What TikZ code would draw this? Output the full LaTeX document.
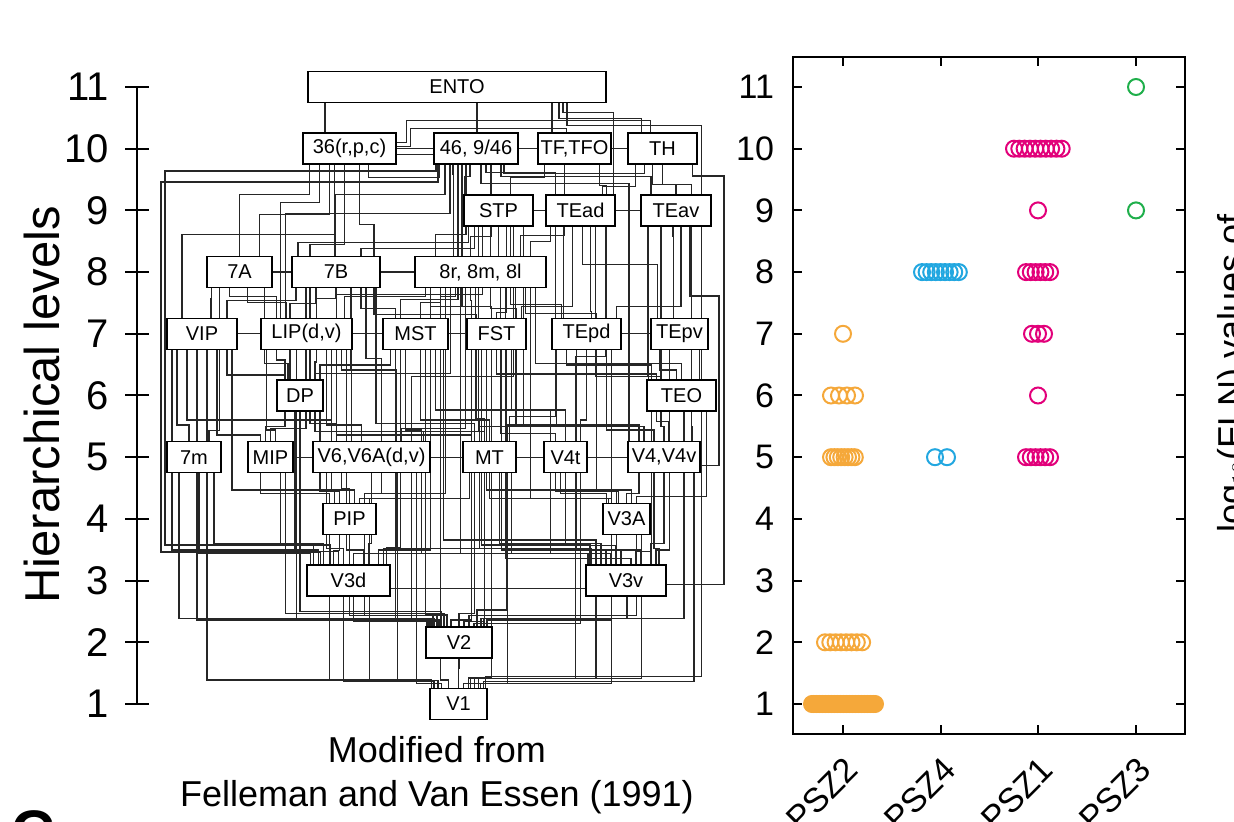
\documentclass[tikz,border=0pt]{standalone}
\usepackage{fontspec}
\setmainfont{Liberation Sans}
\definecolor{pszorange}{HTML}{F5A83A}
\definecolor{pszcyan}{HTML}{22A7E0}
\definecolor{pszmag}{HTML}{E2007A}
\definecolor{pszgreen}{HTML}{1FAF4B}
\pgfdeclarelayer{wires}
\pgfsetlayers{wires,main}
\tikzstyle{area}=[rectangle, draw, fill=white, line width=0.7pt, minimum height=15.5pt, inner sep=0pt, font=\fontsize{10}{12}\selectfont]
\tikzstyle{wire}=[draw=black!85, line width=0.6pt]
\tikzstyle{axis}=[line width=1pt]
\tikzstyle{ring}=[line width=1pt]
\tikzstyle{lvl}=[font=\fontsize{20}{22}\selectfont]
\tikzstyle{num}=[font=\fontsize{17}{19}\selectfont]
\begin{document}
\begin{tikzpicture}[x=0.5pt, y=-0.5pt]
\useasboundingbox (0,0) rectangle (1234,822);

% areas, one row per level
\node[area, minimum width=149pt] (ento) at (457,87) {ENTO};
\node[area, minimum width=46.5pt] (c36) at (349.5,148.7) {36(r,p,c)};
\node[area, minimum width=42pt] (a46) at (476,148.7) {46, 9/46};
\node[area, minimum width=36.5pt, line width=1pt] (tf) at (574.5,148.7) {TF,TFO};
\node[area, minimum width=34.5pt] (th) at (662.5,148.7) {TH};
\node[area, minimum width=34.5pt] (stp) at (498.5,210.4) {STP};
\node[area, minimum width=34.5pt] (tead) at (580.5,210.4) {TEad};
\node[area, minimum width=35pt] (teav) at (676,210.4) {TEav};
\node[area, minimum width=32.5pt] (a7a) at (239.5,272.1) {7A};
\node[area, minimum width=44pt] (a7b) at (336,272.1) {7B};
\node[area, minimum width=65.5pt] (a8) at (480.5,272.1) {8r, 8m, 8l};
\node[area, minimum width=35pt] (vip) at (202,333.8) {VIP};
\node[area, minimum width=45.5pt] (lip) at (306.5,333.8) {LIP(d,v)};
\node[area, minimum width=32.5pt] (mst) at (415.5,333.8) {MST};
\node[area, minimum width=29.5pt] (fst) at (496.5,333.8) {FST};
\node[area, minimum width=34.5pt] (tepd) at (586.5,333.8) {TEpd};
\node[area, minimum width=28.5pt] (tepv) at (679.5,333.8) {TEpv};
\node[area, minimum width=23pt] (dp) at (300,395.5) {DP};
\node[area, minimum width=34.5pt] (teo) at (681.5,395.5) {TEO};
\node[area, minimum width=27pt] (a7m) at (194,457.2) {7m};
\node[area, minimum width=22.5pt] (mip) at (270.5,457.2) {MIP};
\node[area, minimum width=58.5pt] (v6) at (371.5,457.2) {V6,V6A(d,v)};
\node[area, minimum width=26.5pt] (mt) at (489.5,457.2) {MT};
\node[area, minimum width=21.5pt] (v4t) at (565.5,457.2) {V4t};
\node[area, minimum width=36pt] (v4) at (664,457.2) {V4,V4v};
\node[area, minimum width=26.5pt] (pip) at (349.5,518.9) {PIP};
\node[area, minimum width=23.5pt] (v3a) at (626.5,518.9) {V3A};
\node[area, minimum width=41.5pt] (v3d) at (348.5,580.6) {V3d};
\node[area, minimum width=40pt] (v3v) at (626,580.6) {V3v};
\node[area, minimum width=33pt] (v2) at (459,642.3) {V2};
\node[area, minimum width=28.5pt] (v1) at (458.5,704) {V1};

\begin{pgfonlayer}{wires}
% upper area -> lower area
\foreach \hi/\hx/\jy/\lo/\lx in {
 ento/-132/12/c36/-24.5, ento/20/12/a46/1, ento/95/12/tf/-22.5, ento/102/15/th/-21, ento/106/9/tead/33, ento/110/22/teo/20,
 c36/-40/30/a7a/0, c36/-30/38/lip/-26, c36/-15/70/vip/-20, c36/-5/80/dp/10, c36/10/60/a7b/38, c36/-20/50/a7a/20,
 a46/-31/30/a7b/-1, a46/-26/49/lip/-21, a46/-23/10/a8/-27, a46/-6/12/stp/-34, a46/-18/135/mst/-15,
 a46/5/19/v4/-35, a46/10/8/tead/-25, a46/25/12/teav/-25, a46/-14/142/fst/-5, a46/-10/70/a8/-45, a46/15/72/a8/-10,
 tf/-30/12/a8/30, tf/25/20/tepd/20, tf/-10/70/a8/40,
 th/-27/22/tead/22, th/-10/20/teo/10, th/0/20/teav/0,
 stp/-30/16/a7b/-38, stp/-24/22/a7b/25, stp/0/10/a8/18, stp/-16/68/lip/30, stp/-8/80/mst/15,
 stp/8/86/fst/0, stp/15/150/v6/40, stp/25/200/mt/-10, stp/-20/205/v6/52,
 tead/-30/15/a8/50, tead/-17/10/tepd/-23, tead/2/38/tepv/-22, tead/15/150/teo/-20, tead/25/130/v4t/10, tead/-25/190/mt/20,
 tead/-8/80/fst/25, tead/10/85/tepd/5,
 teav/-28/150/teo/-33, teav/-3/10/tepv/-6, teav/-15/200/v4/0, teav/5/80/tepd/30,
 a7a/-28/10/vip/9, a7a/-10/8/lip/-30, a7a/8/14/lip/-20, a7a/25/75/dp/-12, a7a/-20/142/a7m/15,
 a7b/-40/12/vip/25, a7b/-20/15/dp/-10, a7b/0/10/lip/10, a7b/25/20/mst/-20, a7b/38/26/fst/-20,
 a7b/-30/140/mip/0, a7b/30/70/v6/10, a7b/15/80/v6/-20, a7b/40/135/mt/-15,
 a8/-55/8/lip/38, a8/-40/14/mst/5, a8/-25/8/mst/25, a8/-10/12/fst/-25, a8/10/20/fst/20, a8/30/16/tepd/-25,
 a8/45/25/tepd/10, a8/55/75/teo/0, a8/-30/85/dp/15, a8/-15/140/v6/30, a8/-5/130/mt/-5, a8/20/145/v4t/-10,
 a8/35/138/v4/-20, a8/-50/210/pip/10, a8/-35/205/pip/22, a8/50/210/v3a/-18, a8/-20/265/v3d/5, a8/25/270/v3v/5,
 vip/-25/75/a7m/-5, vip/25/25/dp/-15, vip/15/85/mip/-10, vip/-30/200/v3d/-30, vip/-15/70/v6/-40, vip/30/140/pip/-15,
 vip/-5/270/v2/-32, vip/5/330/v1/-27,
 lip/-30/10/dp/-15, lip/10/12/dp/15, lip/-40/80/mip/5, lip/20/75/v6/-10, lip/35/20/v6/25, lip/25/140/pip/5,
 lip/40/200/v3d/15, lip/30/85/mt/-18, lip/-10/270/v2/-30,
 mst/-25/15/dp/20, mst/-10/80/v6/50, mst/5/70/mt/-10, mst/20/60/v4t/-15, mst/28/190/v3v/-30, mst/15/200/v3d/30, mst/-20/270/v2/-20,
 mst/-15/198/v3d/38, mst/10/265/v2/-12, mst/25/330/v1/-10,
 fst/-20/70/mt/0, fst/0/24/teo/-25, fst/15/60/v4t/0, fst/20/75/v4/-25, fst/-10/140/v3a/-10, fst/5/200/v3v/-20, fst/-25/270/v2/-8,
 fst/-15/195/v3v/-36, fst/10/260/v2/18, fst/-5/328/v1/10,
 tepd/-20/15/teo/-30, tepd/0/70/v4t/15, tepd/20/80/v4/-10, tepd/-30/75/mt/18, tepd/10/140/v3a/5,
 tepd/-10/200/v3v/15, tepd/25/270/v2/28,
 tepv/-20/20/teo/-5, tepv/20/60/v4/20, tepv/-10/200/v3v/30,
 dp/-15/15/mip/-5, dp/10/12/v6/-35, dp/20/80/pip/-10, dp/-5/140/v3d/-10, dp/15/20/mt/-5, dp/0/200/v2/-18,
 teo/-25/10/v4/5, teo/10/15/v4/28, teo/25/85/v3a/10, teo/-30/140/v3v/10, teo/20/265/v1/27,
 a7m/20/70/v3d/-35, a7m/-15/145/v2/-25, a7m/5/80/v3d/-38,
 mip/-10/20/pip/-20, mip/10/70/v3d/-25, mip/15/140/v2/-15,
 v6/-30/15/pip/0, v6/0/70/v3d/20, v6/25/75/v3v/-35, v6/40/145/v2/-28, v6/26/207/v1/-21, v6/45/210/v1/-17,
 v6/-45/75/v3d/-5, v6/10/20/pip/15, v6/50/80/v3v/-38,
 mt/-20/25/pip/20, mt/-10/75/v3d/35, mt/10/70/v3v/-25, mt/-5/148/v2/5, mt/18/210/v1/22, mt/0/25/v3a/-15,
 mt/-15/140/v2/0, mt/22/80/v3v/-15,
 v4t/-10/18/v3a/-8, v4t/0/72/v3v/-10, v4t/15/150/v2/15, v4t/10/205/v1/16, v4t/-15/80/v3d/38, v4t/-5/20/v3a/-20,
 v4/-25/20/v3a/0, v4/0/70/v3v/25, v4/20/145/v2/25, v4/30/208/v1/25, v4/-10/75/v3v/33,
 pip/-10/15/v3d/-15, pip/15/80/v2/-22, pip/20/145/v1/-25, pip/0/80/v2/-26, pip/-20/145/v1/-20,
 v3a/-10/15/v3v/-5, v3a/10/80/v2/10, v3a/15/143/v1/12, v3a/-15/148/v1/5,
 v3d/5/25/v2/-20, v3d/-5/85/v1/-24,
 v3v/1/22/v2/22, v3v/-30/82/v1/20,
 v2/0/10/v1/0}
 \draw[wire] ([xshift=\hx*0.5pt]\hi.south) -- ++(0,\jy) -| ([xshift=\lx*0.5pt]\lo.north);
% same level
\foreach \wa/\wb/\wy in {c36/a46/0, c36/a46/-3, a46/tf/0, tf/th/0, stp/tead/0, tead/teav/0, a7a/a7b/0, a7b/a8/0,
 vip/lip/0, lip/mst/0, mst/fst/0, tepd/tepv/0, mip/v6/0, v6/mt/0, mt/v4t/0, v4t/v4/0, v3d/v3v/-4}
 \draw[wire] ([yshift=\wy pt]\wa.east) -- ([yshift=\wy pt]\wb.west);
% long way round
\draw[wire] ([xshift=-40*0.5pt]a46.south) |- (165,171) -- (165,545) -| ([xshift=-18*0.5pt]v3d.north);
\draw[wire] ([xshift=-38*0.5pt]a46.south) |- (161,182) -- (161,552) -| ([xshift=-28*0.5pt]v3d.north);
\draw[wire] ([xshift=30*0.5pt]th.south) |- (724,176) |- ([yshift=-2pt]v3v.east);
\draw[wire] ([xshift=14*0.5pt]teav.south) |- (719,296) |- ([yshift=-4pt]v4.east);
\draw[wire] ([yshift=3pt]c36.east) -| ++(10,-22) -| ([xshift=-12*0.5pt]th.north);
\draw[wire] ([yshift=1pt]c36.east) -| ++(14,-18) -| ([xshift=-8*0.5pt]tf.north);
\draw[wire] ([xshift=19*0.5pt]c36.south) -- ++(0,13) -| ([xshift=-37*0.5pt]a46.south);
\draw[wire] ([xshift=28*0.5pt]a46.south) -- ++(0,9) -| ([xshift=-18*0.5pt]th.south);
\end{pgfonlayer}

% level axis
\draw[axis] (137,87) -- (137,704);
\foreach \l in {1,...,11} {
 \pgfmathsetmacro\yy{704-61.7*(\l-1)}
 \draw[axis] (125,\yy) -- (149,\yy);
 \node[lvl, anchor=east] (ll\l) at (116,\yy) {\l};
}
\node[rotate=90, font=\fontsize{24.5}{26}\selectfont] (hlab) at (42,405) {Hierarchical levels};
\node[font=\fontsize{18}{20}\selectfont, align=center] (src) at (437,775) {Modified from\\[2pt]Felleman and Van Essen (1991)};

% plot
\draw[axis] (793,57) rectangle (1185,734);
\foreach \l in {1,...,11} {
 \pgfmathsetmacro\yy{704-61.7*(\l-1)}
 \draw[axis] (793,\yy) -- ++(9,0);
 \draw[axis] (1185,\yy) -- ++(-9,0);
 \node[num, anchor=east] (pl\l) at (781,\yy) {\l};
}
\foreach \x/\n in {843/PSZ2, 941/PSZ4, 1038/PSZ1, 1136/PSZ3} {
 \draw[axis] (\x,57) -- ++(0,9);
 \draw[axis] (\x,734) -- ++(0,-9);
 \node[num, rotate=45, anchor=east] (\n) at (\x+14,759) {\n};
}
% PSZ2
\foreach \x in {812,813.5,...,875} \draw[ring, pszorange] (\x,704) circle (4pt);
\foreach \x in {825,830.3,...,863} \draw[ring, pszorange] (\x,642.3) circle (4pt);
\foreach \x in {831,834.4,...,856} \draw[ring, pszorange] (\x,457.2) circle (4pt);
\foreach \x in {831,839,...,856} \draw[ring, pszorange] (\x,395.5) circle (4pt);
\draw[ring, pszorange] (843,333.8) circle (4pt);
% PSZ4
\foreach \x in {922,926.6,...,960} \draw[ring, pszcyan] (\x,272.1) circle (4pt);
\foreach \x in {935,947} \draw[ring, pszcyan] (\x,457.2) circle (4pt);
% PSZ1
\foreach \x in {1014,1019.3,...,1063} \draw[ring, pszmag] (\x,148.7) circle (4pt);
\foreach \x in {1026,1030.8,...,1051} {
 \draw[ring, pszmag] (\x,272.1) circle (4pt);
 \draw[ring, pszmag] (\x,457.2) circle (4pt);
}
\foreach \x in {1032,1038,1044} \draw[ring, pszmag] (\x,333.8) circle (4pt);
\draw[ring, pszmag] (1038,210.4) circle (4pt);
\draw[ring, pszmag] (1038,395.5) circle (4pt);
% PSZ3
\draw[ring, pszgreen] (1136,87) circle (4pt);
\draw[ring, pszgreen] (1136,210.4) circle (4pt);

\node[rotate=90, anchor=base west, font=\fontsize{18}{20}\selectfont] (flnlab) at (1243,540) {log$_{10}$(FLN) values of};
\node[anchor=base west, font=\bfseries\fontsize{30}{30}\selectfont] (panel) at (4,852) {C};
\end{tikzpicture}
\end{document}
